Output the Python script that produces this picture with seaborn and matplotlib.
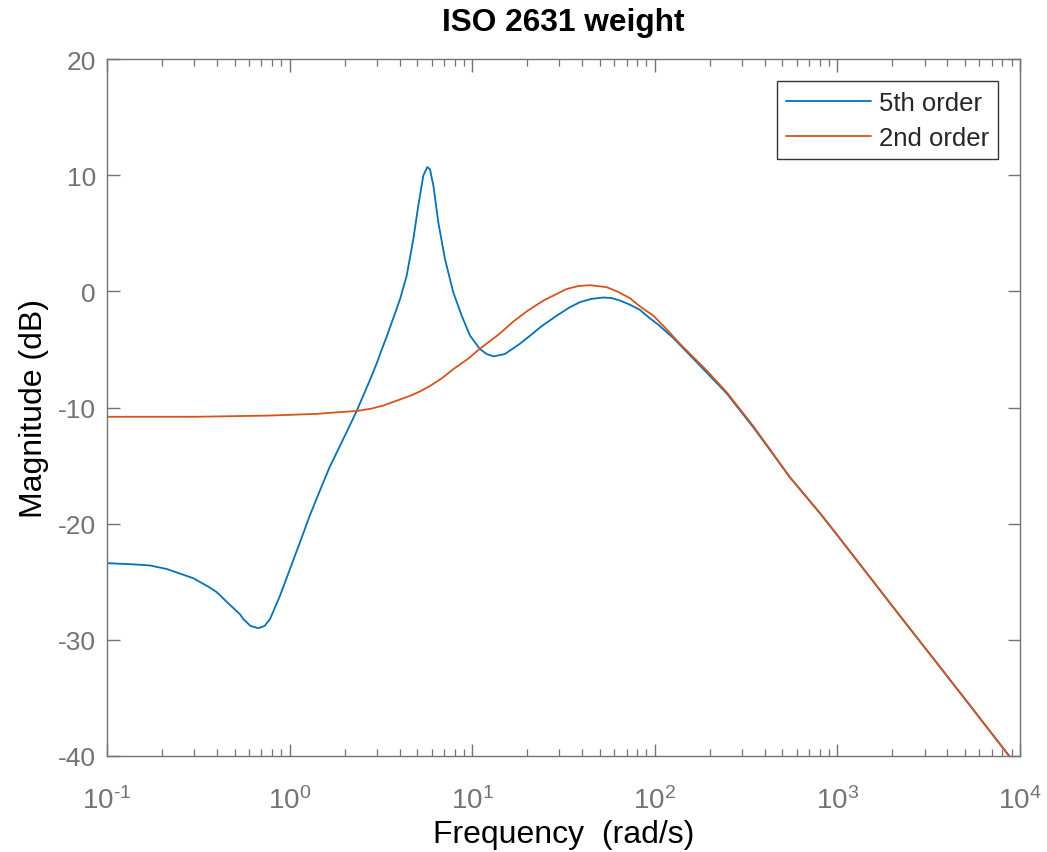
import numpy as np
import pandas as pd
import matplotlib
matplotlib.use("Agg")
import matplotlib.pyplot as plt
import seaborn as sns
from matplotlib.ticker import LogLocator, FuncFormatter

# Bode magnitude readings of the two ISO 2631 weighting filters
freq_5th = [0.1, 0.139, 0.172, 0.212, 0.262, 0.297, 0.366, 0.399, 0.472, 0.535,
            0.557, 0.610, 0.675, 0.730, 0.782, 0.886, 1.005, 1.14, 1.29, 1.47,
            1.66, 1.97, 2.33, 2.76, 3.0, 3.13, 3.40, 3.70, 4.03, 4.38, 4.76, 5.07,
            5.40, 5.68, 5.87, 6.13, 6.52, 7.09, 7.87, 8.75, 9.72, 11.0, 12.0,
            13.1, 15.1, 18.3, 20.8, 24.0, 29.0, 34.0, 38.9, 45.0, 52.2, 58.0,
            64.4, 73.0, 83.0, 90.3, 105, 126, 177, 248, 350, 549, 803, 1000,
            2000, 5000, 10000]
mag_5th = [-23.4, -23.5, -23.6, -23.9, -24.4, -24.7, -25.5, -25.9, -27.0, -27.8,
           -28.2, -28.8, -29.0, -28.8, -28.2, -26.2, -23.9, -21.6, -19.3, -17.1,
           -15.1, -12.7, -10.3, -7.6, -6.2, -5.4, -3.9, -2.3, -0.65, 1.36, 4.5, 7.4,
           9.97, 10.7, 10.5, 9.1, 5.95, 2.8, -0.07, -2.08, -3.8, -4.95, -5.4,
           -5.6, -5.4, -4.5, -3.8, -3.0, -2.1, -1.4, -0.93, -0.65, -0.53, -0.58,
           -0.79, -1.15, -1.6, -2.1, -2.9, -4.0, -6.4, -8.8, -11.8, -16.0, -19.1, -21.0,
           -27.1, -35.1, -41.2]

freq_2nd = [0.1, 0.3, 0.75, 1.41, 1.66, 2.33, 2.8, 3.26, 3.8, 4.56, 5.2, 5.87,
            6.8, 7.88, 9.5, 11.0, 14.0, 16.8, 20.0, 24.5, 32.9, 38.0, 44.1, 54.5,
            63.0, 73.1, 83.0, 98.2, 115, 137, 192, 248, 350, 549, 803, 1000, 2000,
            5000, 10000]
mag_2nd = [-10.8, -10.8, -10.7, -10.55, -10.46, -10.3, -10.1, -9.83, -9.45, -9.0, -8.6,
           -8.15, -7.5, -6.7, -5.8, -4.95, -3.7, -2.6, -1.7, -0.8, 0.2, 0.45, 0.53,
           0.36, -0.05, -0.59, -1.3, -2.1, -3.2, -4.5, -6.8, -8.7, -11.7, -16.0, -19.1,
           -21.0, -27.1, -35.1, -41.2]

series_names = ["5th order", "2nd order"]
series_colors = ["#0072BD", "#D95319"]

df = pd.concat([
    pd.DataFrame({"freq": freq_5th, "mag": mag_5th, "filter": series_names[0]}),
    pd.DataFrame({"freq": freq_2nd, "mag": mag_2nd, "filter": series_names[1]}),
], ignore_index=True)

sns.set_theme(style="white")
plt.rcParams["font.family"] = ["Liberation Sans", "DejaVu Sans"]
plt.rcParams["mathtext.fontset"] = "custom"
plt.rcParams["mathtext.rm"] = "Liberation Sans"
plt.rcParams["mathtext.it"] = "Liberation Sans"
plt.rcParams["axes.unicode_minus"] = False

axis_gray = "#737373"

fig = plt.figure(figsize=(10.47, 8.53), dpi=100)
ax = fig.add_axes([107 / 1047, 1 - 757 / 853, (1020 - 107) / 1047, (757 - 60) / 853])

sns.lineplot(data=df, x="freq", y="mag", hue="filter", hue_order=series_names,
             palette=series_colors, sort=False, estimator=None, linewidth=1.3,
             ax=ax, legend=True)

ax.set_xscale("log")
ax.set_xlim(0.1, 1e4)
ax.set_ylim(-40, 20)
ax.set_yticks([-40, -30, -20, -10, 0, 10, 20])
ax.xaxis.set_major_locator(LogLocator(base=10, numticks=10))
ax.xaxis.set_minor_locator(LogLocator(base=10, subs=np.arange(2, 10), numticks=50))


def decade_label(value, pos):
    exponent = int(round(np.log10(value)))
    return "10$^{\\text{%d}}$" % exponent


ax.xaxis.set_major_formatter(FuncFormatter(decade_label))

for side in ["left", "right", "top", "bottom"]:
    ax.spines[side].set_color(axis_gray)
    ax.spines[side].set_linewidth(1.0)

ax.tick_params(axis="both", which="major", direction="in", length=9, width=1.0,
               color=axis_gray, labelcolor=axis_gray, labelsize=19,
               top=True, right=True, bottom=True, left=True)
ax.tick_params(axis="x", which="major", labelsize=20, pad=22)
ax.tick_params(axis="y", which="major", pad=8)
ax.tick_params(axis="x", which="minor", direction="in", length=5, width=0.9,
               color=axis_gray, top=True, bottom=True)

ax.set_xlabel("Frequency  (rad/s)", fontsize=23, color="black", labelpad=3)
ax.set_ylabel("Magnitude (dB)", fontsize=23, color="black", labelpad=6)
ax.set_title("ISO 2631 weight", fontsize=22.8, fontweight="bold", color="black", pad=21)

leg = ax.legend(loc="upper right", fontsize=18.5, frameon=True, fancybox=False,
                edgecolor="black", handlelength=3.3, handletextpad=0.3,
                borderpad=0.36, labelspacing=0.45, borderaxespad=0,
                bbox_to_anchor=(0.976, 0.968))
leg.get_frame().set_linewidth(1.0)
for line in leg.get_lines():
    line.set_linewidth(1.3)

fig.savefig("out.png", dpi=100)
